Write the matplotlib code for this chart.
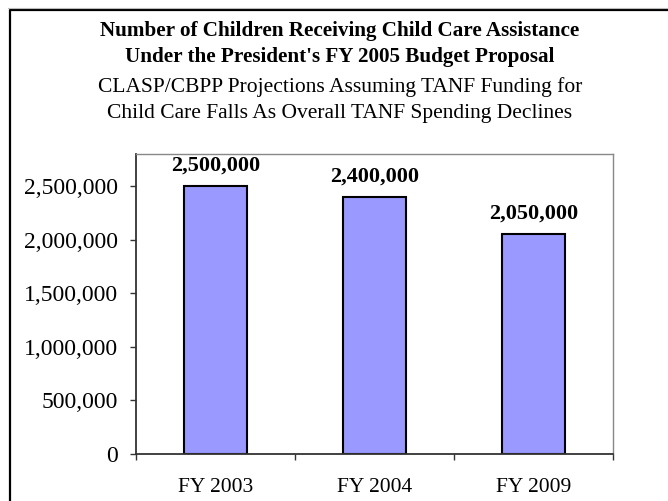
import numpy as np
import matplotlib.pyplot as plt
from matplotlib.lines import Line2D
from matplotlib.ticker import FuncFormatter, MultipleLocator

categories = ['FY 2003', 'FY 2004', 'FY 2009']
children = [2500000, 2400000, 2050000]
title_lines = ["Number of Children Receiving Child Care Assistance",
               "Under the President's FY 2005 Budget Proposal"]
subtitle_lines = ["CLASP/CBPP Projections Assuming TANF Funding for",
                  "Child Care Falls As Overall TANF Spending Declines"]

plt.rcParams['font.family'] = ['Liberation Serif', 'DejaVu Serif']

W, H = 668, 501
fig = plt.figure(figsize=(W / 100, H / 100), dpi=100)

# axes placed in pixel terms
left, right, top, bottom = 136, 613, 154, 454
axes = fig.add_axes([left / W, 1 - bottom / H, (right - left) / W, (bottom - top) / H])

x = np.arange(len(categories))
bars = axes.bar(x, children, width=0.4, color='#9999FF', edgecolor='black', linewidth=1.5)

axes.set_xlim(-0.5, len(categories) - 0.5)
axes.set_ylim(0, 2800000)
axes.yaxis.set_major_locator(MultipleLocator(500000))
axes.yaxis.set_major_formatter(FuncFormatter(lambda v, p: f'{int(v):,}'))

axes.set_xticks(x)
axes.set_xticklabels(categories)
axes.set_xticks(np.arange(-0.5, len(categories)), minor=True)
axes.tick_params(axis='x', which='major', length=0, pad=17, labelsize=15.5)
axes.tick_params(axis='x', which='minor', length=4.5, width=1.0, color='#333333', direction='out')
axes.tick_params(axis='y', length=4, width=1.0, color='#333333', pad=9, labelsize=17)

for side in ['left', 'bottom']:
    axes.spines[side].set_color('#333333')
    axes.spines[side].set_linewidth(1.3)
for side in ['top', 'right']:
    axes.spines[side].set_color('#888888')
    axes.spines[side].set_linewidth(1.0)

# Подписи значений над столбцами
for b, v in zip(bars, children):
    axes.annotate(f'{v:,}', (b.get_x() + b.get_width() / 2, v),
                  xytext=(0, 11), textcoords='offset points',
                  ha='center', va='baseline', fontsize=16, fontweight='bold')

# Заголовок
cx = 340 / W
fig.text(cx, 1 - 36 / H, title_lines[0], ha='center', va='baseline', fontsize=15.2, fontweight='bold')
fig.text(cx, 1 - 62 / H, title_lines[1], ha='center', va='baseline', fontsize=15.2, fontweight='bold')
fig.text(cx, 1 - 92 / H, subtitle_lines[0], ha='center', va='baseline', fontsize=15.5)
fig.text(cx, 1 - 118 / H, subtitle_lines[1], ha='center', va='baseline', fontsize=15.5)

# Внешняя рамка (слева и сверху)
fig.add_artist(Line2D([9.5 / W, 9.5 / W, 1.0], [0.0, 1 - 9.5 / H, 1 - 9.5 / H],
                      color='black', linewidth=1.6, transform=fig.transFigure))
fig.add_artist(Line2D([8 / W, 1.0], [1 - 7.5 / H, 1 - 7.5 / H],
                      color='#bbbbbb', linewidth=0.8, transform=fig.transFigure))

fig.savefig('out.png', dpi=100)
